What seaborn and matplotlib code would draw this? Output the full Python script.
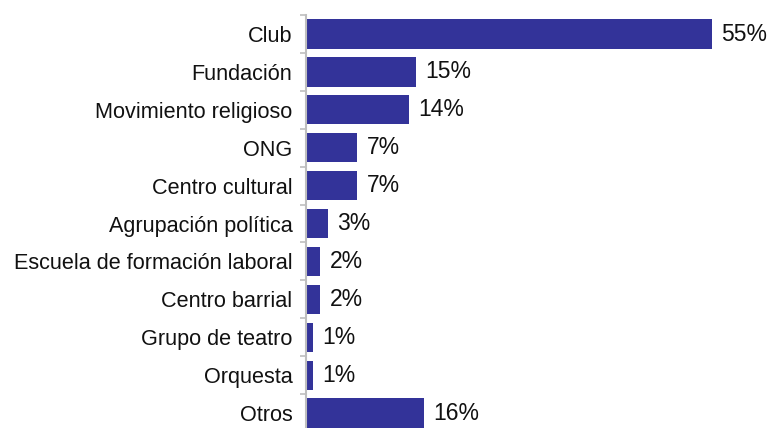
import pandas as pd
import matplotlib
matplotlib.use('Agg')
import matplotlib.pyplot as plt
import seaborn as sns
from matplotlib.ticker import FixedLocator

# datos
categorias = ['Club', 'Fundación', 'Movimiento religioso', 'ONG', 'Centro cultural',
              'Agrupación política', 'Escuela de formación laboral', 'Centro barrial',
              'Grupo de teatro', 'Orquesta', 'Otros']
porcentajes = [55, 15, 14, 7, 7, 3, 2, 2, 1, 1, 16]
etiquetas = ['55%', '15%', '14%', '7%', '7%', '3%', '2%', '2%', '1%', '1%', '16%']

df = pd.DataFrame({'categoria': categorias, 'pct': porcentajes})

sns.set_style('white')
plt.rcParams['font.family'] = ['Liberation Sans', 'DejaVu Sans']

fig = plt.figure(figsize=(7.7, 4.28), dpi=100)
ax = fig.add_axes([0.397, -0.0093, 0.603, 0.974])

sns.barplot(data=df, x='pct', y='categoria', orient='h', color='#333399',
            saturation=1, width=0.77, linewidth=0, ax=ax)

for p, txt in zip(ax.patches, etiquetas):
    ax.annotate(txt, (p.get_width(), p.get_y() + p.get_height() / 2),
                xytext=(6.5, 0), textcoords='offset points', va='center', ha='left',
                fontsize=16.5, color='#111111')

ax.set_xlim(0, 62.9)
ax.set_ylim(len(categorias) - 0.5, -0.5)
ax.set_xlabel('')
ax.set_ylabel('')
ax.set_xticks([])

for s in ['top', 'right', 'bottom']:
    ax.spines[s].set_visible(False)
ax.spines['left'].set_color('#bfbfbf')
ax.spines['left'].set_linewidth(1.5)

ax.yaxis.set_minor_locator(FixedLocator([i - 0.5 for i in range(len(categorias) + 1)]))
ax.tick_params(axis='y', which='major', length=0, pad=9.5, labelsize=15.6, labelcolor='#111111')
ax.tick_params(axis='y', which='minor', length=4, width=1.2, color='#bfbfbf', left=True)

fig.savefig('out.png', dpi=100)
